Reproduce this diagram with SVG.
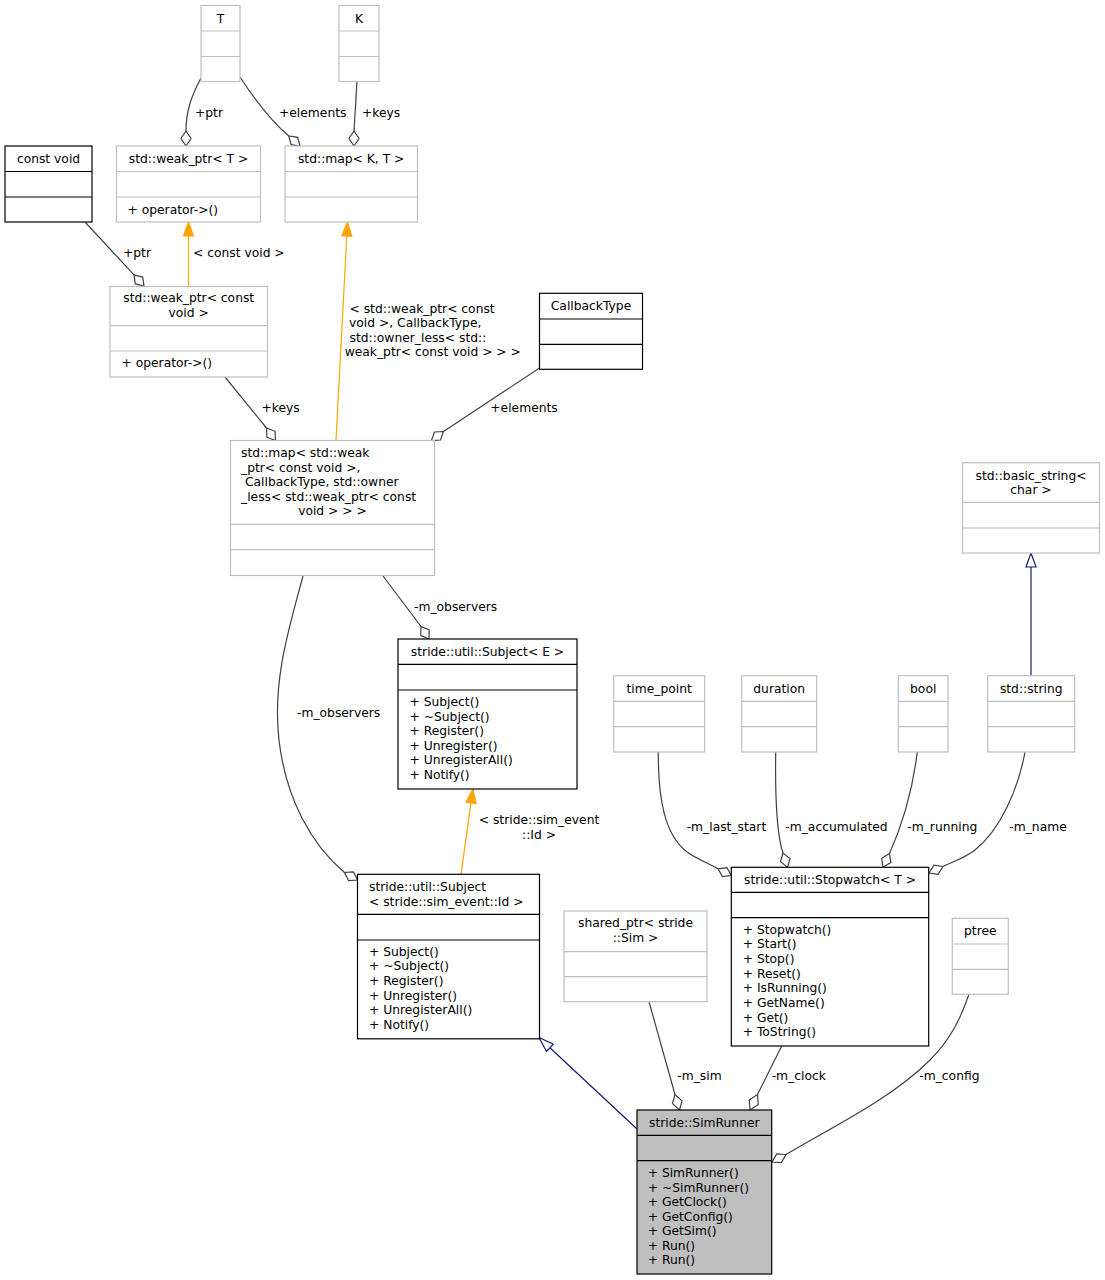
<svg xmlns="http://www.w3.org/2000/svg" width="1105" height="1280" viewBox="0 0 1105 1280">
<style>
text{font-family:"DejaVu Sans","Liberation Sans",sans-serif;font-size:12.3px;fill:#000}
.c{text-anchor:middle}
.g{fill:#fff;stroke:#bfbfbf;stroke-width:1.2}
.b{fill:#fff;stroke:#000;stroke-width:1.2}
.s{fill:#bfbfbf;stroke:#000;stroke-width:1.2}
.gl{stroke:#bfbfbf;stroke-width:1.2}
.bl{stroke:#000;stroke-width:1.2}
.e{fill:none;stroke:#404040;stroke-width:1.2}
.d{fill:#fff;stroke:#404040;stroke-width:1.2}
.o{fill:none;stroke:#ffa500;stroke-width:1.2}
.oa{fill:#ffa500;stroke:#ffa500;stroke-width:1.2}
.u{fill:none;stroke:#191970;stroke-width:1.2}
.ua{fill:#fff;stroke:#191970;stroke-width:1.2}
</style>
<rect width="1105" height="1280" fill="#fff"/>
<g id="connectors">
  <!-- T -> weak_ptr<T> +ptr -->
  <path class="e" d="M201,78 C192,95 186,110 186,131"/>
  <polygon class="d" points="186,131 191,138.5 186,146 181,138.5"/>
  <text x="195" y="116.6">+ptr</text>
  <!-- T -> map<K,T> +elements -->
  <path class="e" d="M240,77 C255,100 272,122 288.8,136"/>
  <polygon class="d" points="288.8,136 291.1,144.7 300,146 297.7,137.3"/>
  <text x="279" y="116.6">+elements</text>
  <!-- K -> map<K,T> +keys -->
  <path class="e" d="M357,81.5 L354,131"/>
  <polygon class="d" points="354,131 359,138.5 354,146 349,138.5"/>
  <text x="362" y="116.6">+keys</text>
  <!-- weak_ptr<const void> -> weak_ptr<T> -->
  <path class="o" d="M188.5,286.5 L188.5,236"/>
  <polygon class="oa" points="188.5,222 193.5,236 183.5,236"/>
  <text x="193" y="256.5">&lt; const void &gt;</text>
  <!-- const void -> weak_ptr<const void> +ptr -->
  <path class="e" d="M85,222 L134,274.9"/>
  <polygon class="d" points="134,274.9 135.3,283.9 144,286 142.7,277.1"/>
  <text x="123" y="256.5">+ptr</text>
  <!-- map<weak..> -> map<K,T> -->
  <path class="o" d="M336,440.5 L346.8,236"/>
  <polygon class="oa" points="347.5,222 351.8,236.3 341.8,235.7"/>
  <text x="349.5" y="313">&lt; std::weak_ptr&lt; const</text>
  <text x="349" y="327.3">void &gt;, CallbackType,</text>
  <text x="349.5" y="341.6">std::owner_less&lt; std::</text>
  <text x="344.7" y="356.4">weak_ptr&lt; const void &gt; &gt; &gt;</text>
  <!-- weak_ptr<const void> -> map<weak> +keys -->
  <path class="e" d="M225,377 L266.5,428"/>
  <polygon class="d" points="266.5,428 266.9,437.2 275.5,440.5 275.1,431.3"/>
  <text x="261.4" y="412">+keys</text>
  <!-- CallbackType -> map<weak> +elements -->
  <path class="e" d="M539.6,368 L443.5,431.5"/>
  <polygon class="d" points="443.5,431.5 434.5,432 431.4,440.5 440.5,440"/>
  <text x="490.3" y="412">+elements</text>
  <!-- map<weak> -> Subject<E> -m_observers -->
  <path class="e" d="M383,576 L421,626.5"/>
  <polygon class="d" points="421,626.5 420.8,635.5 429,639 429.2,630"/>
  <text x="414" y="610.5">-m_observers</text>
  <!-- map<weak> -> Subject<sim_event::Id> -m_observers -->
  <path class="e" d="M303,576 C290,625 272,680 279,740 C286,800 312,845 344.5,872.5"/>
  <polygon class="d" points="344.5,872.5 348.5,880.6 357.5,880 353.5,871.9"/>
  <text x="297" y="716.5">-m_observers</text>
  <!-- Subject<sim_event::Id> -> Subject<E> -->
  <path class="o" d="M461,874.3 L471,802.9"/>
  <polygon class="oa" points="473,789 476,803.6 466,802.2"/>
  <text class="c" x="539" y="824.3">&lt; stride::sim_event</text>
  <text class="c" x="539" y="838.8">::Id &gt;</text>
  <!-- std::string -> basic_string -->
  <path class="u" d="M1031,675.7 L1031,567"/>
  <polygon class="ua" points="1031,553 1036,567 1026,567"/>
  <!-- time_point -> Stopwatch -->
  <path class="e" d="M658.3,752 C658,800 665,835 687,852 C697,859 708,863 718,868.8"/>
  <polygon class="d" points="718,868.8 722.4,876.6 731.3,875.5 726.9,867.7"/>
  <text x="686.7" y="831">-m_last_start</text>
  <!-- duration -> Stopwatch -->
  <path class="e" d="M775.7,752 C775,800 777,835 783,853"/>
  <polygon class="d" points="783,853 780.5,861.65 787.5,867.3 790,858.65"/>
  <text x="785.3" y="831">-m_accumulated</text>
  <!-- bool -> Stopwatch -->
  <path class="e" d="M917.3,752 C912,795 900,830 889.5,853.5"/>
  <polygon class="d" points="889.5,853.5 881.7,858.3 883,867.3 890.8,862.5"/>
  <text x="907.3" y="831">-m_running</text>
  <!-- std::string -> Stopwatch -->
  <path class="e" d="M1025,752 C1018,790 1000,830 975,850 C965,858 952,862 943,866.5"/>
  <polygon class="d" points="943,866.5 933.9,865.2 929,873 938.1,874.3"/>
  <text x="1009.3" y="831">-m_name</text>
  <!-- Subject<sim_event::Id> -> SimRunner inheritance -->
  <path class="u" d="M637,1129 L549.9,1047.8"/>
  <polygon class="ua" points="539,1037.5 553.3,1044.2 546.5,1051.5"/>
  <!-- shared_ptr -> SimRunner -->
  <path class="e" d="M649,1001.7 L675,1094.5"/>
  <polygon class="d" points="675,1094.5 672.45,1103.65 679.5,1110 682.05,1100.85"/>
  <text x="677.3" y="1080.3">-m_sim</text>
  <!-- Stopwatch -> SimRunner -->
  <path class="e" d="M781.7,1046 L757.5,1094.5"/>
  <polygon class="d" points="757.5,1094.5 749.25,1100.07 750,1110 758.25,1104.43"/>
  <text x="771.7" y="1080.3">-m_clock</text>
  <!-- ptree -> SimRunner -->
  <path class="e" d="M969,994.3 C960,1020 950,1040 930,1060 C890,1100 830,1128 786,1154.5"/>
  <polygon class="d" points="786,1154.5 776.64,1153.85 772,1162 781.36,1162.65"/>
  <text x="919.3" y="1080.3">-m_config</text>
</g>

<g id="node-T">
  <rect class="g" x="201" y="5.5" width="39" height="76"/>
  <line class="gl" x1="201" y1="31" x2="240" y2="31"/>
  <line class="gl" x1="201" y1="56.5" x2="240" y2="56.5"/>
  <text class="c" x="220.5" y="22.5">T</text>
</g>
<g id="node-K">
  <rect class="g" x="339" y="5.5" width="40" height="76"/>
  <line class="gl" x1="339" y1="31" x2="379" y2="31"/>
  <line class="gl" x1="339" y1="56.5" x2="379" y2="56.5"/>
  <text class="c" x="359" y="22.5">K</text>
</g>
<g id="node-const-void">
  <rect class="b" x="5" y="146" width="87" height="76"/>
  <line class="bl" x1="5" y1="171.5" x2="92" y2="171.5"/>
  <line class="bl" x1="5" y1="197" x2="92" y2="197"/>
  <text class="c" x="48.5" y="163">const void</text>
</g>
<g id="node-weak-ptr-T">
  <rect class="g" x="116.5" y="146" width="144" height="76"/>
  <line class="gl" x1="116.5" y1="171.5" x2="260.5" y2="171.5"/>
  <line class="gl" x1="116.5" y1="197" x2="260.5" y2="197"/>
  <text class="c" x="188.5" y="163">std::weak_ptr&lt; T &gt;</text>
  <text x="127.5" y="213.8">+ operator-&gt;()</text>
</g>
<g id="node-map-K-T">
  <rect class="g" x="285" y="146" width="132.5" height="76"/>
  <line class="gl" x1="285" y1="171.5" x2="417.5" y2="171.5"/>
  <line class="gl" x1="285" y1="197" x2="417.5" y2="197"/>
  <text class="c" x="351.2" y="163">std::map&lt; K, T &gt;</text>
</g>
<g id="node-weak-ptr-const-void">
  <rect class="g" x="110" y="286.5" width="157.5" height="90.5"/>
  <line class="gl" x1="110" y1="325.7" x2="267.5" y2="325.7"/>
  <line class="gl" x1="110" y1="351" x2="267.5" y2="351"/>
  <text class="c" x="188.7" y="302">std::weak_ptr&lt; const</text>
  <text class="c" x="188.7" y="316.6">void &gt;</text>
  <text x="121.5" y="366.6">+ operator-&gt;()</text>
</g>
<g id="node-CallbackType">
  <rect class="b" x="539.5" y="293.3" width="103" height="76"/>
  <line class="bl" x1="539.5" y1="319" x2="642.5" y2="319"/>
  <line class="bl" x1="539.5" y1="344.3" x2="642.5" y2="344.3"/>
  <text class="c" x="591" y="310.3">CallbackType</text>
</g>
<g id="node-map-weak">
  <rect class="g" x="230.5" y="440.5" width="204" height="135"/>
  <line class="gl" x1="230.5" y1="524.3" x2="434.5" y2="524.3"/>
  <line class="gl" x1="230.5" y1="549.7" x2="434.5" y2="549.7"/>
  <text x="241" y="457.3">std::map&lt; std::weak</text>
  <text x="241" y="471.6">_ptr&lt; const void &gt;,</text>
  <text x="245" y="486.3">CallbackType, std::owner</text>
  <text x="241" y="501">_less&lt; std::weak_ptr&lt; const</text>
  <text class="c" x="332.5" y="514.8">void &gt; &gt; &gt;</text>
</g>
<g id="node-basic-string">
  <rect class="g" x="962.5" y="462.7" width="137" height="90.3"/>
  <line class="gl" x1="962.5" y1="502.3" x2="1099.5" y2="502.3"/>
  <line class="gl" x1="962.5" y1="528" x2="1099.5" y2="528"/>
  <text class="c" x="1031" y="479.5">std::basic_string&lt;</text>
  <text class="c" x="1031" y="494">char &gt;</text>
</g>
<g id="node-Subject-E">
  <rect class="b" x="398" y="639" width="179" height="150"/>
  <line class="bl" x1="398" y1="664.3" x2="577" y2="664.3"/>
  <line class="bl" x1="398" y1="690" x2="577" y2="690"/>
  <text class="c" x="487.5" y="656">stride::util::Subject&lt; E &gt;</text>
  <text x="409.5" y="706">+ Subject()</text>
  <text x="409.5" y="720.6">+ ~Subject()</text>
  <text x="409.5" y="735.2">+ Register()</text>
  <text x="409.5" y="749.8">+ Unregister()</text>
  <text x="409.5" y="764.4">+ UnregisterAll()</text>
  <text x="409.5" y="779">+ Notify()</text>
</g>
<g id="node-time-point">
  <rect class="g" x="613.7" y="675.7" width="91" height="76.3"/>
  <line class="gl" x1="613.7" y1="701.3" x2="704.7" y2="701.3"/>
  <line class="gl" x1="613.7" y1="726.7" x2="704.7" y2="726.7"/>
  <text class="c" x="659.2" y="692.7">time_point</text>
</g>
<g id="node-duration">
  <rect class="g" x="741.7" y="675.7" width="75" height="76.3"/>
  <line class="gl" x1="741.7" y1="701.3" x2="816.7" y2="701.3"/>
  <line class="gl" x1="741.7" y1="726.7" x2="816.7" y2="726.7"/>
  <text class="c" x="779.2" y="692.7">duration</text>
</g>
<g id="node-bool">
  <rect class="g" x="898.3" y="675.7" width="49.7" height="76.3"/>
  <line class="gl" x1="898.3" y1="701.3" x2="948" y2="701.3"/>
  <line class="gl" x1="898.3" y1="726.7" x2="948" y2="726.7"/>
  <text class="c" x="923.2" y="692.7">bool</text>
</g>
<g id="node-std-string">
  <rect class="g" x="987.7" y="675.7" width="87" height="76.3"/>
  <line class="gl" x1="987.7" y1="701.3" x2="1074.7" y2="701.3"/>
  <line class="gl" x1="987.7" y1="726.7" x2="1074.7" y2="726.7"/>
  <text class="c" x="1031.2" y="692.7">std::string</text>
</g>
<g id="node-Subject-Id">
  <rect class="b" x="357.5" y="874.3" width="182" height="164.5"/>
  <line class="bl" x1="357.5" y1="914.3" x2="539.5" y2="914.3"/>
  <line class="bl" x1="357.5" y1="940" x2="539.5" y2="940"/>
  <text x="369" y="891.2">stride::util::Subject</text>
  <text x="369" y="905.6">&lt; stride::sim_event::Id &gt;</text>
  <text x="369" y="955.5">+ Subject()</text>
  <text x="369" y="970.2">+ ~Subject()</text>
  <text x="369" y="984.9">+ Register()</text>
  <text x="369" y="999.6">+ Unregister()</text>
  <text x="369" y="1014.3">+ UnregisterAll()</text>
  <text x="369" y="1029">+ Notify()</text>
</g>
<g id="node-shared-ptr">
  <rect class="g" x="564" y="911" width="143" height="90.7"/>
  <line class="gl" x1="564" y1="951.7" x2="707" y2="951.7"/>
  <line class="gl" x1="564" y1="976.7" x2="707" y2="976.7"/>
  <text class="c" x="635.5" y="927">shared_ptr&lt; stride</text>
  <text class="c" x="635.5" y="941.6">::Sim &gt;</text>
</g>
<g id="node-Stopwatch">
  <rect class="b" x="731.3" y="867.3" width="197.4" height="178.7"/>
  <line class="bl" x1="731.3" y1="892.3" x2="928.7" y2="892.3"/>
  <line class="bl" x1="731.3" y1="917.7" x2="928.7" y2="917.7"/>
  <text class="c" x="830" y="884">stride::util::Stopwatch&lt; T &gt;</text>
  <text x="742.7" y="933.6">+ Stopwatch()</text>
  <text x="742.7" y="948.3">+ Start()</text>
  <text x="742.7" y="962.9">+ Stop()</text>
  <text x="742.7" y="977.6">+ Reset()</text>
  <text x="742.7" y="992.3">+ IsRunning()</text>
  <text x="742.7" y="1007">+ GetName()</text>
  <text x="742.7" y="1021.6">+ Get()</text>
  <text x="742.7" y="1036.3">+ ToString()</text>
</g>
<g id="node-ptree">
  <rect class="g" x="952.3" y="918.3" width="56" height="76"/>
  <line class="gl" x1="952.3" y1="944" x2="1008.3" y2="944"/>
  <line class="gl" x1="952.3" y1="969.3" x2="1008.3" y2="969.3"/>
  <text class="c" x="980.3" y="935.3">ptree</text>
</g>
<g id="node-SimRunner">
  <rect class="s" x="637" y="1110" width="134.7" height="164"/>
  <line class="bl" x1="637" y1="1135.3" x2="771.7" y2="1135.3"/>
  <line class="bl" x1="637" y1="1160.7" x2="771.7" y2="1160.7"/>
  <text class="c" x="704.3" y="1126.5">stride::SimRunner</text>
  <text x="647.7" y="1177">+ SimRunner()</text>
  <text x="647.7" y="1191.6">+ ~SimRunner()</text>
  <text x="647.7" y="1206.1">+ GetClock()</text>
  <text x="647.7" y="1220.7">+ GetConfig()</text>
  <text x="647.7" y="1235.2">+ GetSim()</text>
  <text x="647.7" y="1249.8">+ Run()</text>
  <text x="647.7" y="1264.3">+ Run()</text>
</g>
</svg>
